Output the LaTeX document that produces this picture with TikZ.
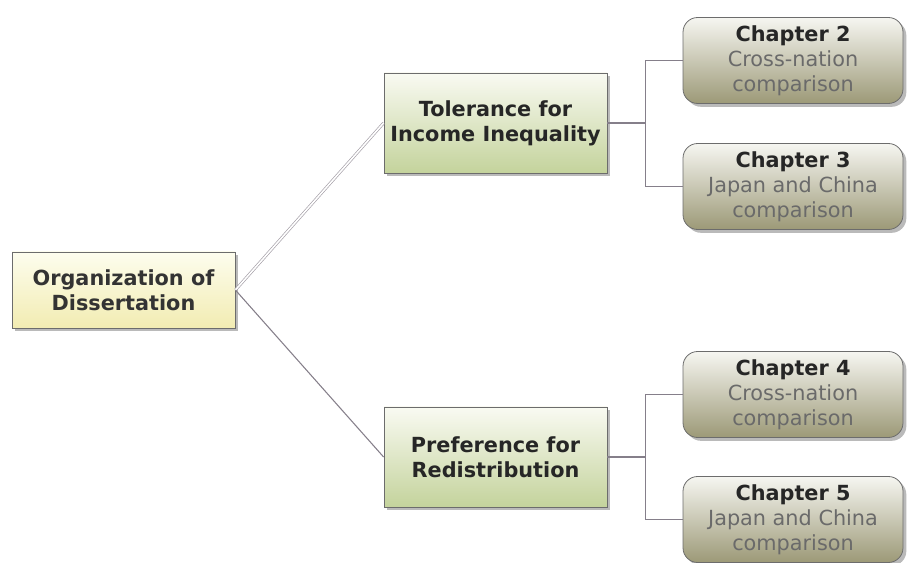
\documentclass[tikz,border=0pt]{standalone}
\usepackage{fontspec}
\setmainfont{DejaVu Sans}
\usetikzlibrary{shadows}

\definecolor{rootTop}{HTML}{FDFDEE}
\definecolor{rootBot}{HTML}{F2ECB2}
\definecolor{topicTop}{HTML}{F9FAF2}
\definecolor{topicBot}{HTML}{C4D39C}
\definecolor{chapTop}{HTML}{F6F6F1}
\definecolor{chapBot}{HTML}{9C9977}
\definecolor{edgeGray}{HTML}{857F8A}
\definecolor{subGray}{HTML}{6A6A6A}

\tikzset{
  box/.style={draw=gray!85!black, line width=0.6pt, align=center, inner sep=0pt,
    font=\fontsize{15.6}{18.75}\selectfont,
    drop shadow={shadow xshift=2.5pt, shadow yshift=-2.5pt, opacity=0.45, fill=gray!80!black}},
  rootbox/.style={box, top color=rootTop, bottom color=rootBot, text=black!80,
    minimum width=223*0.75pt, minimum height=76*0.75pt, font=\fontsize{15.6}{18.75}\selectfont\bfseries},
  topicbox/.style={box, top color=topicTop, bottom color=topicBot, text=black!85,
    minimum width=223*0.75pt, minimum height=100*0.75pt, font=\fontsize{15.6}{18.75}\selectfont\bfseries},
  chapbox/.style={box, rounded corners=11pt, top color=chapTop, bottom color=chapBot, text=subGray,
    minimum width=220*0.75pt, minimum height=86*0.75pt},
  link/.style={draw=edgeGray, line width=0.8pt},
  biglink/.style={draw=edgeGray!75, line width=0.5pt, double=white, double distance=1.2pt}
}

\begin{document}
\begin{tikzpicture}[x=0.75pt, y=0.75pt]

    \useasboundingbox (0,0) rectangle (909,563);

    \def\fork{38}

    \node[rootbox]  (root) at (123.5, 273) {Organization of\\Dissertation};
    \node[topicbox] (tol)  at (495.5, 440) {Tolerance for\\Income Inequality};
    \node[topicbox] (pref) at (495.5, 106) {Preference for\\Redistribution};

    \foreach \n/\y/\sub in {2/502.5/{Cross-nation\\comparison},
                            3/376.5/{Japan and China\\comparison},
                            4/168.5/{Cross-nation\\comparison},
                            5/43.5/{Japan and China\\comparison}} {
      \node[chapbox] (ch\n) at (793, \y) {\textcolor{black!85}{\bfseries Chapter \n}\\\sub};
    }

    \draw[biglink] (root.east) -- (tol.west);
    \draw[link]    (root.east) -- (pref.west);

    \draw[link] (tol.east) -- ++(\fork, 0) coordinate (tolfork);
    \draw[link] (tolfork) |- (ch2.west);
    \draw[link] (tolfork) |- (ch3.west);

    \draw[link] (pref.east) -- ++(\fork, 0) coordinate (preffork);
    \draw[link] (preffork) |- (ch4.west);
    \draw[link] (preffork) |- (ch5.west);

    \end{tikzpicture}
\end{document}
